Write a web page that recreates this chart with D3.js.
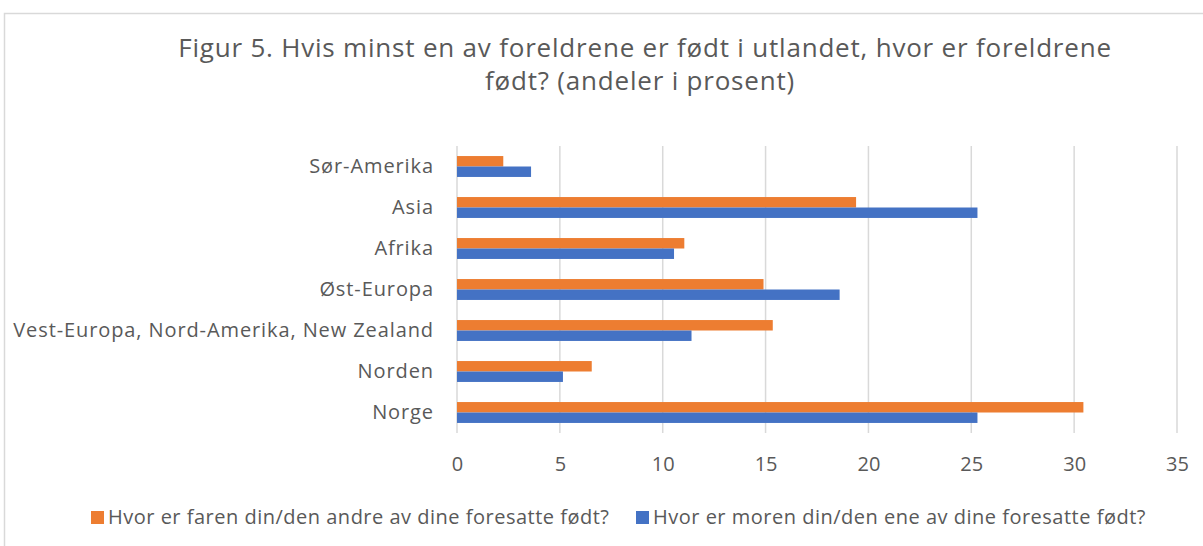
<!DOCTYPE html>
<html>
<head>
<meta charset="utf-8">
<script src="https://cdn.jsdelivr.net/npm/d3@7"></script>
<style>
  body { margin: 0; background: #fff; }
  text { font-family: "Open Sans", sans-serif; fill: #595959; }
</style>
</head>
<body>
<div id="chart"></div>
<script>
// categories, top to bottom
var categories = ["Sør-Amerika", "Asia", "Afrika", "Øst-Europa",
  "Vest-Europa, Nord-Amerika, New Zealand", "Norden", "Norge"];
// series
var seriesNames = ["Hvor er faren din/den andre av dine foresatte født?",
  "Hvor er moren din/den ene av dine foresatte født?"];
var faren = [2.25, 19.4, 11.05, 14.9, 15.35, 6.55, 30.45];
var moren = [3.6, 25.3, 10.55, 18.6, 11.4, 5.15, 25.3];
var ticks = [0, 5, 10, 15, 20, 25, 30, 35];
var colors = ["#ed7d31", "#4472c4"];

var W = 1203, H = 546;
var margin = {top: 146, left: 457, right: 26, bottom: 113};
var width = W - margin.left - margin.right,
  height = H - margin.top - margin.bottom;

var svg = d3.select("#chart").append("svg")
  .attr("width", W).attr("height", H);

// chart border
svg.append("rect")
  .attr("x", 4.5).attr("y", 13.5)
  .attr("width", W + 20).attr("height", H + 20)
  .attr("fill", "none").attr("stroke", "#d9d9d9").attr("stroke-width", 1.5);

// title
var title = svg.append("text")
  .attr("text-anchor", "middle")
  .style("font-size", "26px")
  .style("letter-spacing", "0.8px");
title.append("tspan").attr("x", 645).attr("y", 57)
  .text("Figur 5. Hvis minst en av foreldrene er født i utlandet, hvor er foreldrene");
title.append("tspan").attr("x", 640).attr("y", 90)
  .text("født? (andeler i prosent)");

var g = svg.append("g")
  .attr("transform", "translate(" + margin.left + "," + margin.top + ")");

var x = d3.scaleLinear().domain([0, 35]).range([0, width]);
var y = d3.scaleBand().domain(categories).range([0, height]).paddingInner(0.49).paddingOuter(0.245);
var ySub = d3.scaleBand().domain([0, 1]).range([0, y.bandwidth()]);

// gridlines
g.selectAll(".grid")
  .data(ticks)
  .enter().append("line")
  .attr("x1", function (d) { return x(d); })
  .attr("x2", function (d) { return x(d); })
  .attr("y1", 0).attr("y2", height)
  .attr("stroke", "#d9d9d9").attr("stroke-width", 1.5);

// bars
var data = [faren, moren];
data.forEach(function (vals, s) {
  g.selectAll(".bar" + s)
    .data(vals)
    .enter().append("rect")
    .attr("x", x(0))
    .attr("y", function (d, i) { return y(categories[i]) + ySub(s); })
    .attr("width", function (d) { return x(d) - x(0); })
    .attr("height", ySub.bandwidth())
    .attr("fill", colors[s]);
});

// x axis labels
var xAxis = g.append("g")
  .attr("transform", "translate(0," + height + ")")
  .call(d3.axisBottom(x).tickValues(ticks).tickSize(0).tickPadding(24));
xAxis.select(".domain").remove();
xAxis.selectAll("text").style("font-size", "20px").style("font-family", "\"Open Sans\", sans-serif").attr("fill", "#595959");

// y axis labels
var yAxis = g.append("g")
  .call(d3.axisLeft(y).tickSize(0).tickPadding(23));
yAxis.select(".domain").remove();
yAxis.selectAll("text").style("font-size", "20px").style("font-family", "\"Open Sans\", sans-serif")
  .style("letter-spacing", "0.9px").attr("fill", "#595959");

// legend
var legendX = [91, 636];
seriesNames.forEach(function (name, s) {
  var lg = svg.append("g").attr("transform", "translate(" + legendX[s] + ",511)");
  lg.append("rect").attr("width", 13).attr("height", 13).attr("fill", colors[s]);
  lg.append("text").attr("x", 17).attr("y", 13)
    .style("font-size", "20px").style("letter-spacing", "0.5px").text(name);
});
</script>
</body>
</html>
